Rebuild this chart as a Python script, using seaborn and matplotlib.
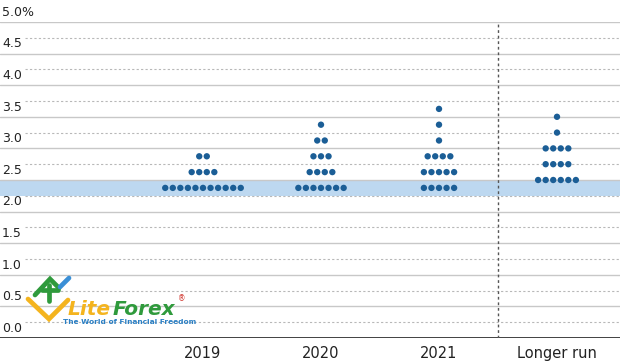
import numpy as np
import pandas as pd
import seaborn as sns
import matplotlib.pyplot as plt
from matplotlib import transforms

# Fed dot plot: projected fed funds rate (midpoint), one dot per participant
categories = ["2019", "2020", "2021", "Longer run"]
levels_2019 = [2.375, 2.625, 2.875]
counts_2019 = [11, 4, 2]
levels_2020 = [2.375, 2.625, 2.875, 3.125, 3.375]
counts_2020 = [7, 4, 3, 2, 1]
levels_2021 = [2.375, 2.625, 2.875, 3.125, 3.375, 3.625]
counts_2021 = [5, 5, 4, 1, 1, 1]
levels_longer = [2.5, 2.75, 3.0, 3.25, 3.5]
counts_longer = [6, 4, 4, 1, 1]
target_low, target_high = 2.25, 2.5
y_ticks = [0.0, 0.5, 1.0, 1.5, 2.0, 2.5, 3.0, 3.5, 4.0, 4.5, 5.0]
y_labels = ["0.0", "0.5", "1.0", "1.5", "2.0", "2.5", "3.0", "3.5", "4.0", "4.5", "5.0%"]

groups = [(levels_2019, counts_2019), (levels_2020, counts_2020),
          (levels_2021, counts_2021), (levels_longer, counts_longer)]
gap = 0.064  # horizontal spacing between dots in a row
rows = []
for i, (levels, counts) in enumerate(groups):
    for lv, n in zip(levels, counts):
        for k in range(n):
            rows.append({"cat": categories[i], "x": i + (k - (n - 1) / 2) * gap, "rate": lv})
df = pd.DataFrame(rows)

sns.set_style("white")
plt.rcParams['font.family'] = ['Liberation Sans Narrow', 'DejaVu Sans']

W, H = 620, 363
fig = plt.figure(figsize=(W / 100, H / 100), dpi=100)
ax = fig.add_axes([0, 25 / H, 1, 316 / H])
ax.set_xlim(-203 / 118, (W - 203) / 118)
ax.set_ylim(0, 5)
for s in ax.spines.values():
    s.set_visible(False)

blue = "#1b5e96"
ax.axhspan(target_low, target_high, color="#bdd8f0", zorder=0, lw=0)

# gridlines: solid on labelled values, dotted between
x_start = 25 / W
for v in y_ticks[1:]:
    ax.axhline(v, color="#c8c8c8", lw=1.0, zorder=1)
for v in np.arange(0.25, 5, 0.5):
    ax.axhline(v, xmin=x_start, color="#b8b8b8", lw=0.8, ls=(0, (2, 2)), zorder=1)
ax.axhline(0, color="#333333", lw=1.3, zorder=2)
ax.axvline(2.5, color="#555555", lw=1.0, ls=(0, (2, 2)), zorder=2)

sns.scatterplot(data=df, x="x", y="rate", color=blue, s=21, edgecolor="none",
                legend=False, ax=ax, zorder=3)

trans = transforms.blended_transform_factory(ax.transAxes, ax.transData)
for v, lab in zip(y_ticks, y_labels):
    ax.text(2 / W, v + 0.05, lab, transform=trans, ha="left", va="bottom",
            fontsize=9, color="#222222")

ax.set_yticks([])
ax.set_xticks(range(len(categories)))
ax.set_xticklabels(categories, fontsize=10.5, color="#222222")
ax.tick_params(axis="x", length=0, pad=6)
ax.set_xlabel("")
ax.set_ylabel("")

# LiteForex watermark
def px(x, y):
    return x / W, 1 - y / H

def stroke(pts, color, lw=3.4):
    xs, ys = zip(*[px(a, b) for a, b in pts])
    fig.add_artist(plt.Line2D(xs, ys, color=color, lw=lw, solid_capstyle="round",
                              solid_joinstyle="miter", transform=fig.transFigure, zorder=5))

stroke([(28, 299), (49, 319), (68, 300)], "#f4b41e")
stroke([(35, 295), (50, 279), (59, 288)], "#2f9a3c")
stroke([(42, 290), (58, 290)], "#2f9a3c")
stroke([(49, 285), (49, 301)], "#2f9a3c")
stroke([(60, 287), (69, 278)], "#3a8fd6")

fig.text(*px(68, 315), "Lite", fontsize=14.5, fontweight="bold", style="italic",
         color="#f4b41e", family="DejaVu Sans", va="baseline", ha="left", zorder=5)
fig.text(*px(113, 315), "Forex", fontsize=14.5, fontweight="bold", style="italic",
         color="#2f9a3c", family="DejaVu Sans", va="baseline", ha="left", zorder=5)
fig.text(*px(178, 301), "®", fontsize=5.5, color="#d0342c", family="DejaVu Sans",
         va="baseline", ha="left", zorder=5)
fig.text(*px(63, 324), "The World of Financial Freedom", fontsize=5.3, fontweight="bold",
         color="#2a7fc4", family="DejaVu Sans", va="baseline", ha="left", zorder=5)

fig.savefig("out.png", dpi=100)
